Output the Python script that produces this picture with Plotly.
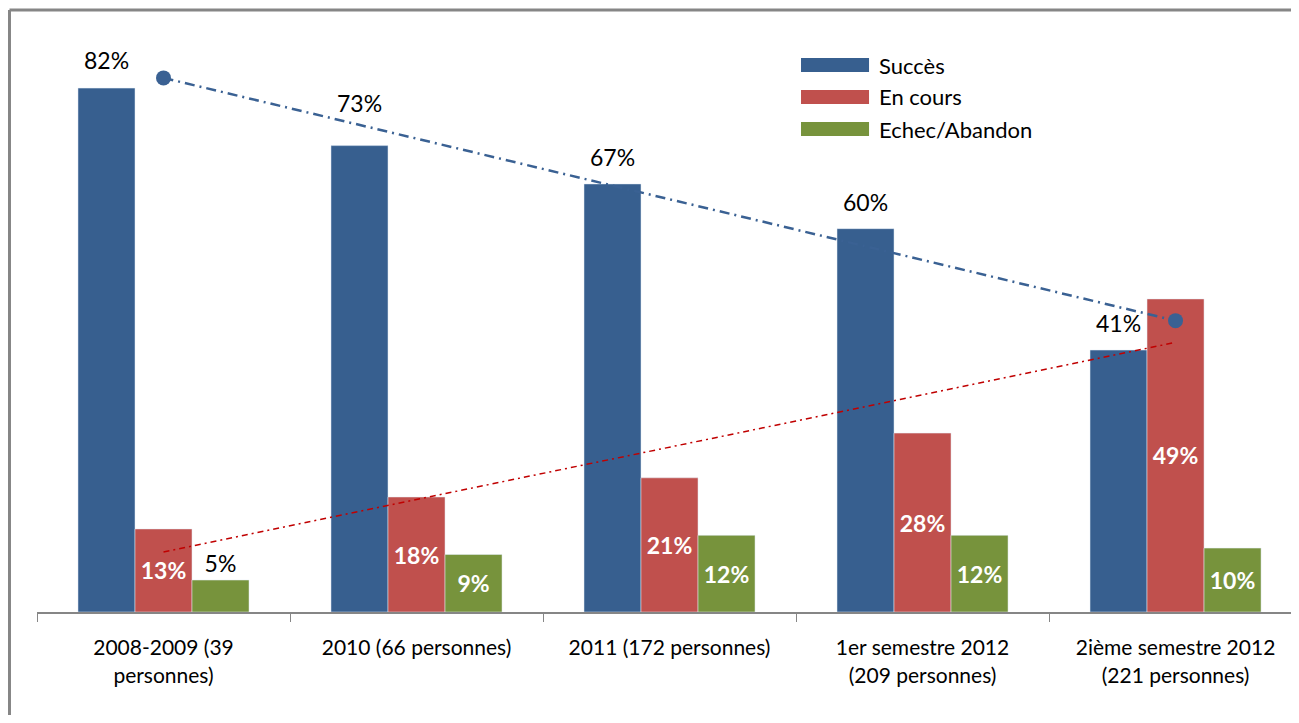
import plotly.graph_objects as go

# Données
categories = ["2008-2009 (39<br>personnes)", "2010 (66 personnes)", "2011 (172 personnes)",
              "1er semestre 2012<br>(209 personnes)", "2ième semestre 2012<br>(221 personnes)"]
succes = [82, 73, 67, 60, 41]
en_cours = [13, 18, 21, 28, 49]
echec = [5, 9, 12, 12, 10]
series_names = ["Succès", "En cours", "Echec/Abandon"]

# Tendances (extrémités)
trend_x = [categories[0], categories[-1]]
trend_succes = [83.6, 45.6]
trend_en_cours = [9.4, 42.2]

BLUE = "#375f8f"
RED = "#c0504d"
GREEN = "#77933c"
GRAY = "#868686"
FONT = "Lato"

# Décalage vertical des étiquettes "Succès"
succes_shift = [28, 43, 27, 27, 27]

fig = go.Figure()

fig.add_trace(go.Bar(x=categories, y=succes, name=series_names[0], marker_color=BLUE))
fig.add_trace(go.Bar(x=categories, y=en_cours, name=series_names[1], marker_color=RED,
                     text=[f"{v}%" for v in en_cours], textposition="inside",
                     insidetextanchor="middle", constraintext="none",
                     insidetextfont=dict(color="white", size=23, family=FONT, weight="bold")))
fig.add_trace(go.Bar(x=categories, y=echec, name=series_names[2], marker_color=GREEN,
                     text=[f"{v}%" for v in echec],
                     textposition=["outside", "inside", "inside", "inside", "inside"],
                     insidetextanchor="middle", constraintext="none", cliponaxis=False,
                     insidetextfont=dict(color="white", size=23, family=FONT, weight="bold"),
                     outsidetextfont=dict(color="black", size=23, family=FONT)))

# Lignes de tendance
fig.add_trace(go.Scatter(x=trend_x, y=trend_succes, mode="lines+markers",
                         line=dict(color="#3a6193", width=2.5, dash="10px,5px,2px,5px"),
                         marker=dict(size=15, color="#3a6193"), showlegend=False))
fig.add_trace(go.Scatter(x=trend_x, y=trend_en_cours, mode="lines",
                         line=dict(color="#c00000", width=1.5, dash="6px,4px,2px,4px"),
                         showlegend=False))

# Étiquettes "Succès" au-dessus des barres
for cat, v, s in zip(categories, succes, succes_shift):
    fig.add_annotation(x=cat, y=v, text=f"{v}%", showarrow=False, xshift=-57, yshift=s,
                       yanchor="middle", font=dict(size=23, color="black", family=FONT))

# Légende manuelle (pavés larges comme dans Excel)
leg_y = [0.9513, 0.8957, 0.84]
for name, color, yc in zip(series_names, [BLUE, RED, GREEN], leg_y):
    fig.add_shape(type="rect", xref="paper", yref="paper", x0=0.6054, x1=0.6593,
                  y0=yc - 0.0122, y1=yc + 0.0122, fillcolor=color, line_width=0)
    fig.add_annotation(xref="paper", yref="paper", x=0.6656, y=yc, text=name, showarrow=False,
                       xanchor="left", yanchor="middle", font=dict(size=22, color="black", family=FONT))

# Cadre gris (haut et gauche, le reste sort de l'image)
fig.add_shape(type="line", xref="paper", yref="paper", x0=-0.0218, x1=1.1, y0=1.047, y1=1.047,
              line=dict(color=GRAY, width=3), layer="below")
fig.add_shape(type="line", xref="paper", yref="paper", x0=-0.0218, x1=-0.0218, y0=-0.3, y1=1.047,
              line=dict(color=GRAY, width=3), layer="below")

fig.update_layout(
    width=1291, height=707,
    barmode="group", bargap=0.324, bargroupgap=0,
    showlegend=False,
    plot_bgcolor="white", paper_bgcolor="white",
    margin=dict(l=29, r=0, t=29, b=103),
    font=dict(family=FONT, color="black"),
    xaxis=dict(range=[-0.5, 4.488], showline=True, linecolor=GRAY, linewidth=2,
               ticks="outside", tickson="boundaries", ticklen=8, tickcolor=GRAY,
               tickfont=dict(size=21, color="black", family=FONT), ticklabelstandoff=16,
               showgrid=False),
    yaxis=dict(range=[0, 90], visible=False, showgrid=False),
)

fig.write_html("out.html")
